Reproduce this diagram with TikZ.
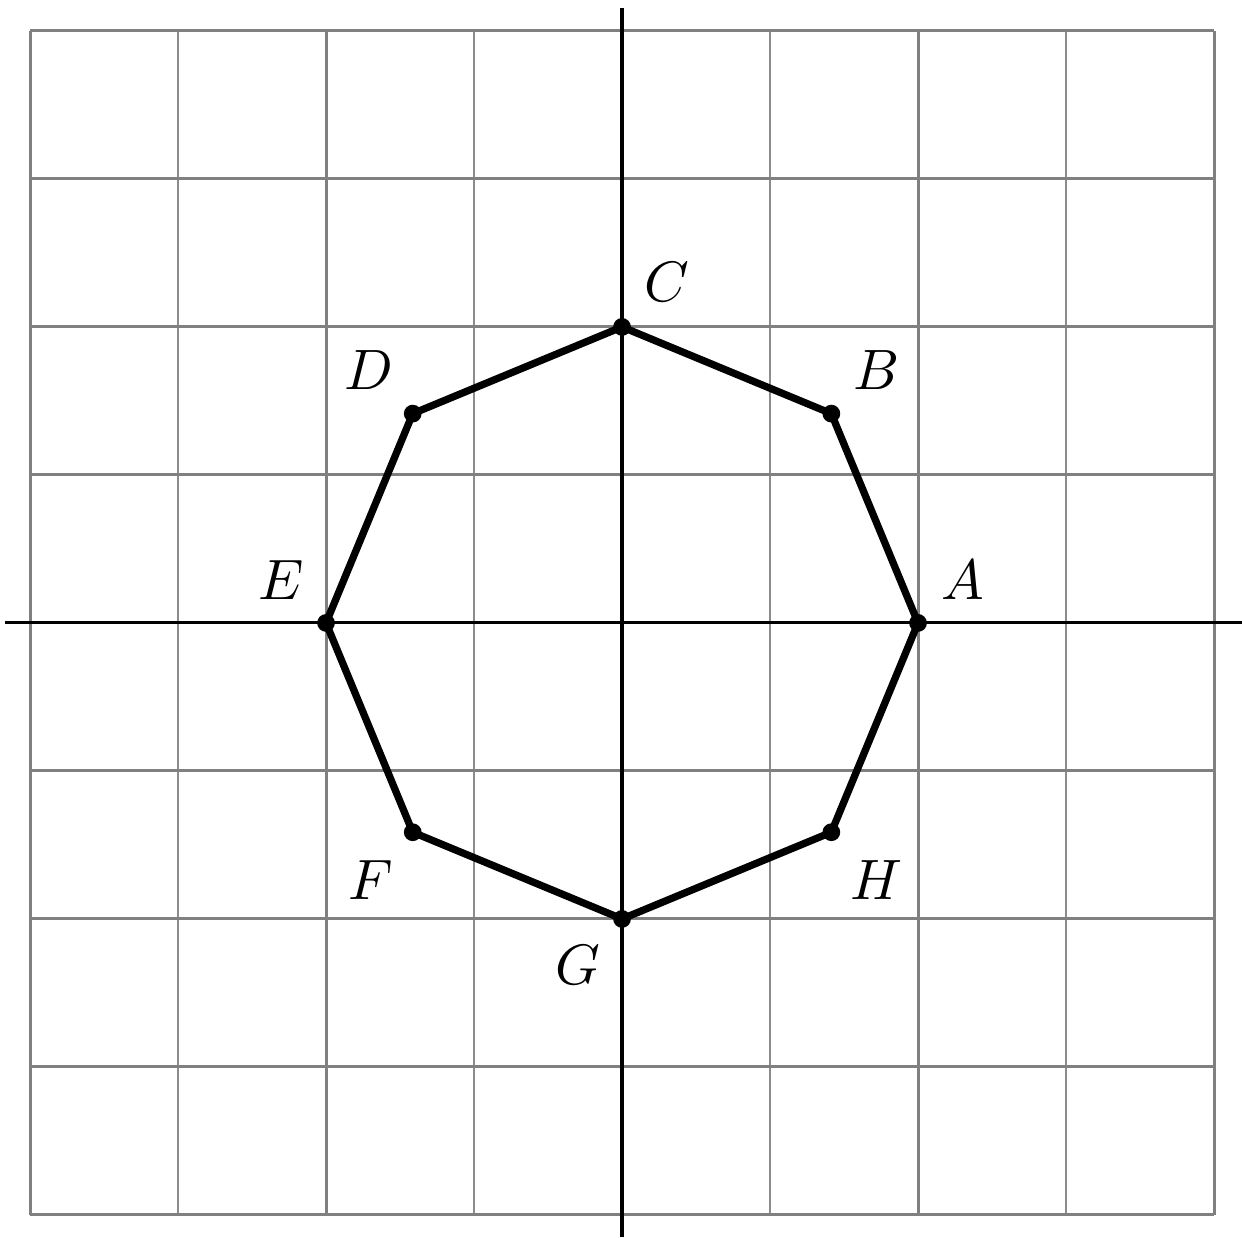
\documentclass[tikz,border=0pt]{standalone}
\begin{document}
\begin{tikzpicture}[
  gridthick/.style={draw=black!50, line width=0.58pt},
  gridthin/.style={draw=black!45, line width=0.36pt},
  axisline/.style={draw=black, line width=0.6pt},
  polyline/.style={draw=black, line width=1.4pt, line join=round},
  vertexdot/.style={circle, fill=black, inner sep=0pt, minimum size=0.12cm},
  vlabel/.style={font=\fontsize{11.2}{13}\selectfont}
]
\useasboundingbox (-4.203,-4.155) rectangle (4.189,4.209);
% grid
\foreach \x in {-3,-1,1,3} \draw[gridthin] (\x,-4) -- (\x,4);
\foreach \x in {-4,-2,2,4} \draw[gridthick] (\x,-4) -- (\x,4);
\foreach \y in {-4,-3,-2,-1,1,2,3,4} \draw[gridthick] (-4,\y) -- (4,\y);
% axes
\coordinate (xl) at (-4.17,0);
\coordinate (xr) at (4.19,0);
\coordinate (yb) at (0,-4.15);
\coordinate (yt) at (0,4.155);
\draw[axisline] (xl) -- (xr);
\draw[axisline] (yb) -- (yt);
% vertices
\node[vertexdot] (A) at (0:2) {};
\node[vertexdot] (B) at (45:2) {};
\node[vertexdot] (C) at (90:2) {};
\node[vertexdot] (D) at (135:2) {};
\node[vertexdot] (E) at (180:2) {};
\node[vertexdot] (F) at (225:2) {};
\node[vertexdot] (G) at (270:2) {};
\node[vertexdot] (H) at (315:2) {};
\draw[polyline] (A.center) -- (B.center) -- (C.center) -- (D.center) -- (E.center) -- (F.center) -- (G.center) -- (H.center) -- cycle;
% labels
\node[vlabel] (lA) at (2.30,0.29) {$A$};
\node[vlabel] (lB) at (1.72,1.71) {$B$};
\node[vlabel] (lC) at (0.30,2.30) {$C$};
\node[vlabel] (lD) at (-1.71,1.71) {$D$};
\node[vlabel] (lE) at (-2.30,0.29) {$E$};
\node[vlabel] (lF) at (-1.70,-1.74) {$F$};
\node[vlabel] (lG) at (-0.30,-2.31) {$G$};
\node[vlabel] (lH) at (1.72,-1.74) {$H$};
\end{tikzpicture}
\end{document}
